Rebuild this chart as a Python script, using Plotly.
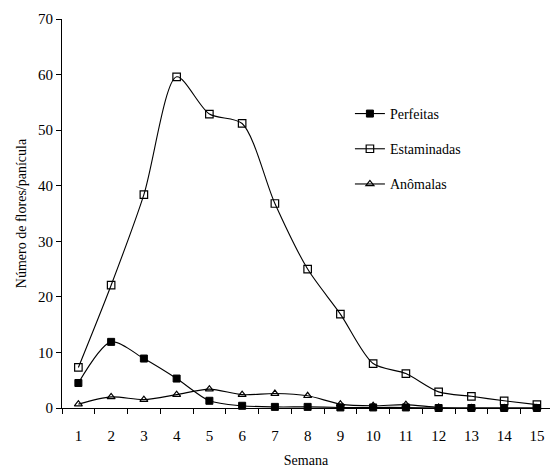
import plotly.graph_objects as go

semana = list(range(1, 16))
perfeitas = [4.5, 11.9, 8.9, 5.3, 1.3, 0.4, 0.2, 0.2, 0.1, 0.1, 0.1, 0.0, 0.0, 0.0, 0.0]
estaminadas = [7.3, 22.1, 38.4, 59.6, 52.9, 51.2, 36.8, 25.0, 16.9, 8.0, 6.2, 2.9, 2.1, 1.3, 0.6]
anomalas = [0.7, 2.0, 1.5, 2.4, 3.4, 2.4, 2.6, 2.2, 0.7, 0.4, 0.6, 0.1, 0.0, 0.0, 0.0]
y_ticks = [0, 10, 20, 30, 40, 50, 60, 70]

FONT = "Liberation Serif"

fig = go.Figure()
series = [
    ("Perfeitas", perfeitas, dict(symbol="square", size=7, color="black", line=dict(color="black", width=1))),
    ("Estaminadas", estaminadas, dict(symbol="square-open", size=7.5, color="black", line=dict(color="black", width=1.2))),
    ("Anômalas", anomalas, dict(symbol="triangle-up-open", size=7, color="black", line=dict(color="black", width=1.2))),
]
for i, (name, vals, mk) in enumerate(series):
    fig.add_trace(go.Scatter(
        x=semana, y=vals, name=name, mode="lines+markers",
        line=dict(color="black", width=1.1, shape="spline", smoothing=0.8),
        marker=mk, legendgroup=str(i), cliponaxis=False,
    ))

fig.update_layout(
    width=550, height=468,
    margin=dict(l=62, r=0, t=19, b=60),
    paper_bgcolor="white", plot_bgcolor="white",
    font=dict(family=FONT, size=14, color="black"),
    showlegend=True,
    legend=dict(x=0.59, y=0.797, xanchor="left", yanchor="top",
                bgcolor="rgba(0,0,0,0)", font=dict(family=FONT, size=14),
                traceorder="grouped", tracegroupgap=14),
    xaxis=dict(
        range=[0.5, 15.4], tickmode="array", tickvals=semana,
        ticktext=[str(s) for s in semana], ticks="", ticklabelstandoff=14,
        showline=True, linecolor="black", linewidth=1, showgrid=False, zeroline=False,
        tickfont=dict(family=FONT, size=15), automargin=False,
        minor=dict(ticks="outside", tick0=0.5, dtick=1, ticklen=5, tickcolor="black", showgrid=False),
        title=dict(text="Semana", font=dict(family=FONT, size=14), standoff=14),
    ),
    yaxis=dict(
        range=[0, 70], tickmode="array", tickvals=y_ticks, ticks="outside", ticklen=5,
        tickcolor="black", showline=True, linecolor="black", linewidth=1,
        showgrid=False, zeroline=False, tickfont=dict(family=FONT, size=15), automargin=False,
        title=dict(text="Número de flores/panícula", font=dict(family=FONT, size=14), standoff=8),
    ),
)

fig.write_html("out.html", config={"displayModeBar": False},
               post_script="document.body.style.margin='0';")
